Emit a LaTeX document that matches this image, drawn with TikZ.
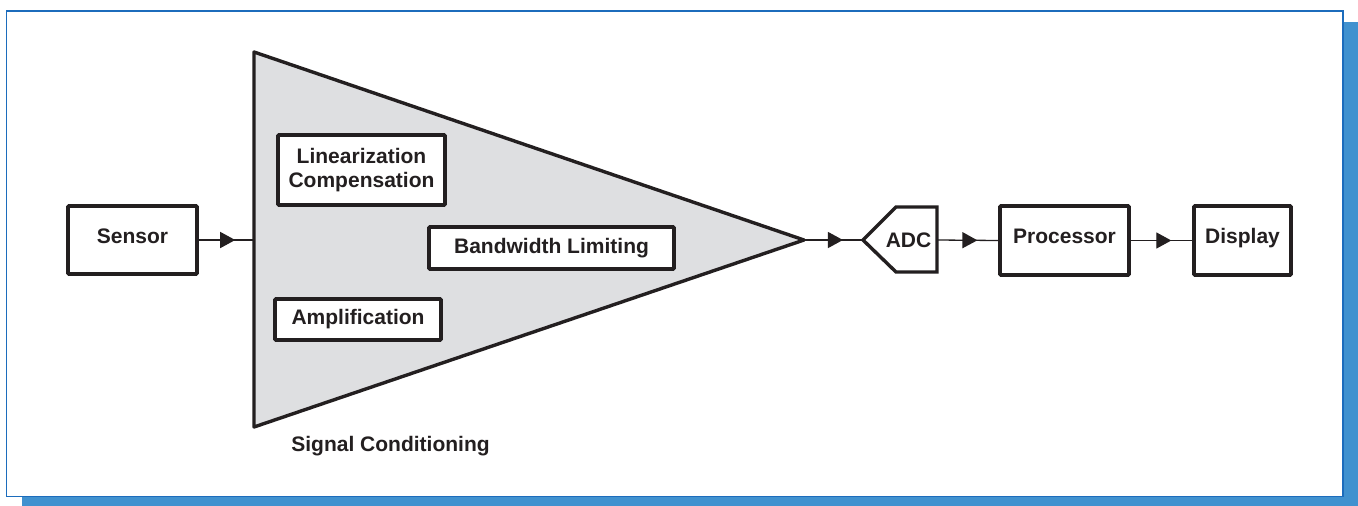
\documentclass[tikz,border=0pt]{standalone}
\usepackage{fontspec}
\setmainfont{Liberation Sans}
\usetikzlibrary{arrows.meta,decorations.markings,positioning}
\definecolor{frameblue}{RGB}{28,108,188}
\definecolor{shadowblue}{RGB}{64,145,207}
\definecolor{condgray}{RGB}{222,223,225}
\definecolor{inkgray}{RGB}{35,31,32}
\tikzset{
  blockbox/.style={draw=inkgray,line width=3.6pt,fill=white,rounded corners=1pt,
    inner sep=0pt,font=\fontsize{21}{24}\selectfont\bfseries,text=inkgray,align=center},
  chainbox/.style={blockbox,text height=15pt,text depth=9pt},
  blocklabel/.style={inner sep=0pt,font=\fontsize{21}{24}\selectfont\bfseries,text=inkgray},
  sigline/.style={draw=inkgray,line width=1.3pt,
    decoration={markings,mark=at position 0.66 with {\arrow{Triangle[length=15pt,width=16pt]}}},
    postaction={decorate}},
}
\begin{document}
\begin{tikzpicture}[x=1pt,y=-1pt]
        \useasboundingbox (0,0) rectangle (1358,506);

        % frame with shadow
        \fill[shadowblue] (22,22) rectangle (1358,506);
        \draw[frameblue,line width=1.5pt,fill=white] (6.5,11) rectangle (1343,496.5);

        % signal conditioning triangle
        \coordinate (condtop) at (254,52);
        \coordinate (condbot) at (254,427);
        \coordinate (condtip) at (804,240);
        \coordinate (condin) at (254,240);
        \draw[draw=inkgray,line width=3.4pt,fill=condgray,line join=round]
          (condtop) -- (condtip) -- (condbot) -- cycle;

        \node[blockbox,minimum width=167,minimum height=70] (linear) at (361.5,170)
          {Linearization\\Compensation};
        \node[blockbox,minimum width=245,minimum height=42] (bandw) at (551.5,248)
          {Bandwidth Limiting};
        \node[blockbox,minimum width=166,minimum height=41] (ampl) at (358,319.5)
          {Amplification};
        \node[blocklabel,anchor=base] (condlabel) at (390.5,451) {Signal Conditioning};

        % chain blocks
        \node[chainbox,minimum width=129,minimum height=68] (sensor) at (132.5,240) {Sensor};
        \node[chainbox,minimum width=129,minimum height=69] (proc) at (1064.5,240.5) {Processor};
        \node[chainbox,minimum width=97,minimum height=69] (disp) at (1242.5,240.5) {Display};

        % ADC
        \coordinate (adcin) at (863,240);
        \coordinate (adcout) at (937,240);
        \draw[draw=inkgray,line width=3.4pt,fill=white]
          (adcin) -- (896,207) -- (937,207) -- (937,272) -- (896,272) -- cycle;
        \node[blocklabel] (adc) at (908.5,240) {ADC};

        % connectors
        \draw[sigline] (sensor.east) -- (condin);
        \draw[sigline] (condtip) -- (adcin);
        \draw[sigline] (adcout) -- (proc.west);
        \draw[sigline] (proc.east) -- (disp.west);

\end{tikzpicture}
\end{document}
